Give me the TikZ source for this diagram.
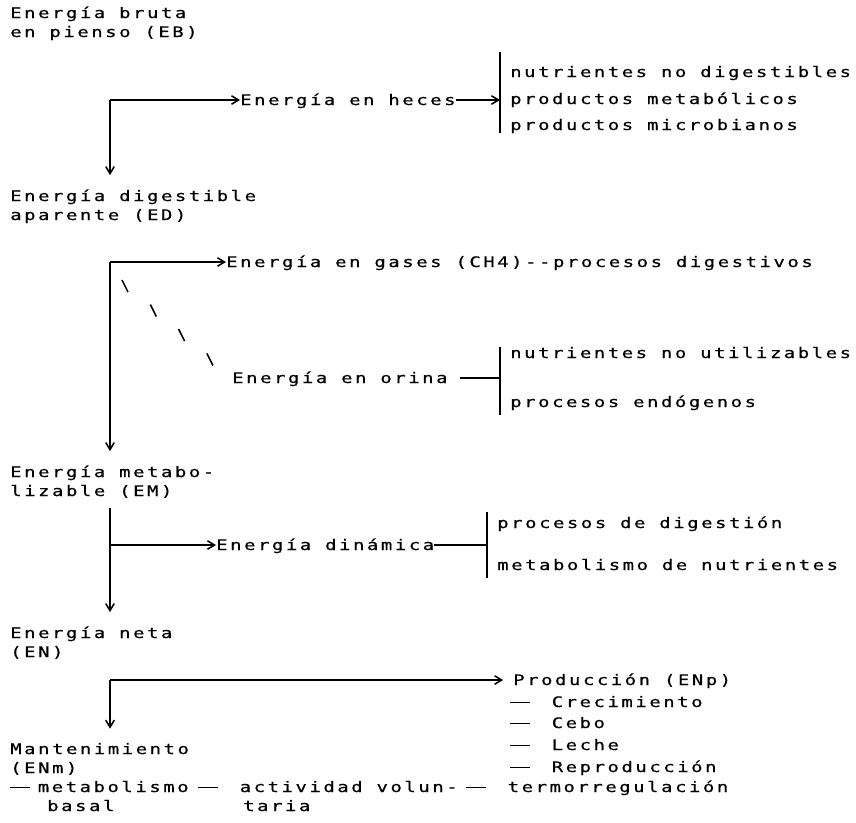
\documentclass[tikz,border=0pt]{standalone}
\usepackage{fontspec}
\usepackage{tikz}
\usetikzlibrary{calc,arrows.meta}
\newfontfamily\dotfont[FakeStretch=1.3,LetterSpace=18,FakeBold=0.6]{DejaVu Sans Mono}
\newcommand{\raya}{\makebox[19.6pt][l]{\rule[3pt]{14pt}{0.9pt}}}
\tikzset{txt/.style={anchor=base west,inner sep=0pt,align=left,font=\dotfont\fontsize{10.3}{13.5}\selectfont},
  ln/.style={line width=1.1pt},
  arr/.style={ln,-{Straight Barb[length=5pt,width=6pt]}},
  down/.style={arr,shorten >=10pt}}

\begin{document}
\begin{tikzpicture}[x=0.025cm,y=-0.025cm]
\useasboundingbox (0,0) rectangle (856,823);
\node[txt] (eb) at (10,37) {Energía bruta\\en pienso (EB)};
\coordinate (t1) at (110,100); \coordinate (b1a) at (500,52); \coordinate (b1b) at (500,133);
\node[txt] (heces) at (240,105) {Energía en heces};
\node[txt] (nd) at (510,77) {nutrientes no digestibles};
\node[txt] (pme) at (510,104) {productos metabólicos};
\node[txt] (pmi) at (510,130) {productos microbianos};
\draw[ln] (b1a) -- (b1b);
\draw[arr] (t1) -- (t1 -| heces.west);
\draw[arr] (heces.east |- t1) -- (t1 -| b1a);
\node[txt] (ed) at (10,220) {Energía digestible\\aparente (ED)};
\draw[down] (t1) -- (t1 |- ed.north);

\coordinate (t2) at (110,262); \coordinate (d0) at (125,286);
\node[txt] (gas) at (226,267) {Energía en gases (CH4)-{}-procesos digestivos};
\draw[arr] (t2) -- (t2 -| gas.west);
\foreach \k in {0,...,3} \draw[ln] ($(d0)+(\k*28.3,\k*24.5)+(-3,-6)$) -- ++(6,12);
\node[txt] (orina) at (232,383) {Energía en orina};
\coordinate (b2a) at (500,347); \coordinate (b2b) at (500,415); \coordinate (o1) at (500,378);
\draw[ln] (b2a) -- (b2b);
\draw[ln,shorten <=3mm] (orina.east |- o1) -- (o1);
\node[txt] (nu) at (510,358) {nutrientes no utilizables};
\node[txt] (pen) at (510,407) {procesos endógenos};
\node[txt] (em) at (10,496) {Energía metabo-\\lizable (EM)};
\draw[down] (t2) -- (t2 |- em.north);

\coordinate (t3) at (110,508); \coordinate (t3h) at (110,545);
\coordinate (b3a) at (487,512); \coordinate (b3b) at (487,578);
\node[txt] (din) at (216,550) {Energía dinámica};
\node[txt] (pdg) at (497,528) {procesos de digestión};
\node[txt] (mdn) at (497,570) {metabolismo de nutrientes};
\draw[ln] (b3a) -- (b3b);
\draw[arr] (t3h) -- (t3h -| din.west);
\draw[ln] (din.east |- t3h) -- (t3h -| b3a);
\node[txt] (en) at (10,657) {Energía neta\\(EN)};
\draw[down] (t3) -- (t3 |- en.north);

\coordinate (t4) at (110,680);
\node[txt] (prod) at (513,685) {Producción (ENp)};
\draw[arr,shorten >=7pt] (t4) -- (t4 -| prod.west);
\node[txt] (cre) at (510,707) {\raya\ Crecimiento};
\node[txt] (cebo) at (510,728) {\raya\ Cebo};
\node[txt] (leche) at (510,750) {\raya\ Leche};
\node[txt] (repro) at (510,772) {\raya\ Reproducción};
\node[txt] (termo) at (466,792) {\raya\ termorregulación};
\node[txt] (mant) at (10,773) {Mantenimiento\\(ENm)};
\draw[down] (t4) -- (t4 |- mant.north);
\node[txt] (mbas) at (10,792) {\raya metabolismo};
\node[txt] (basal) at (47,811) {basal};
\node[txt] (avol) at (198,792) {\raya\ actividad volun-};
\node[txt] (taria) at (243,811) {taria};
\end{tikzpicture}
\end{document}
